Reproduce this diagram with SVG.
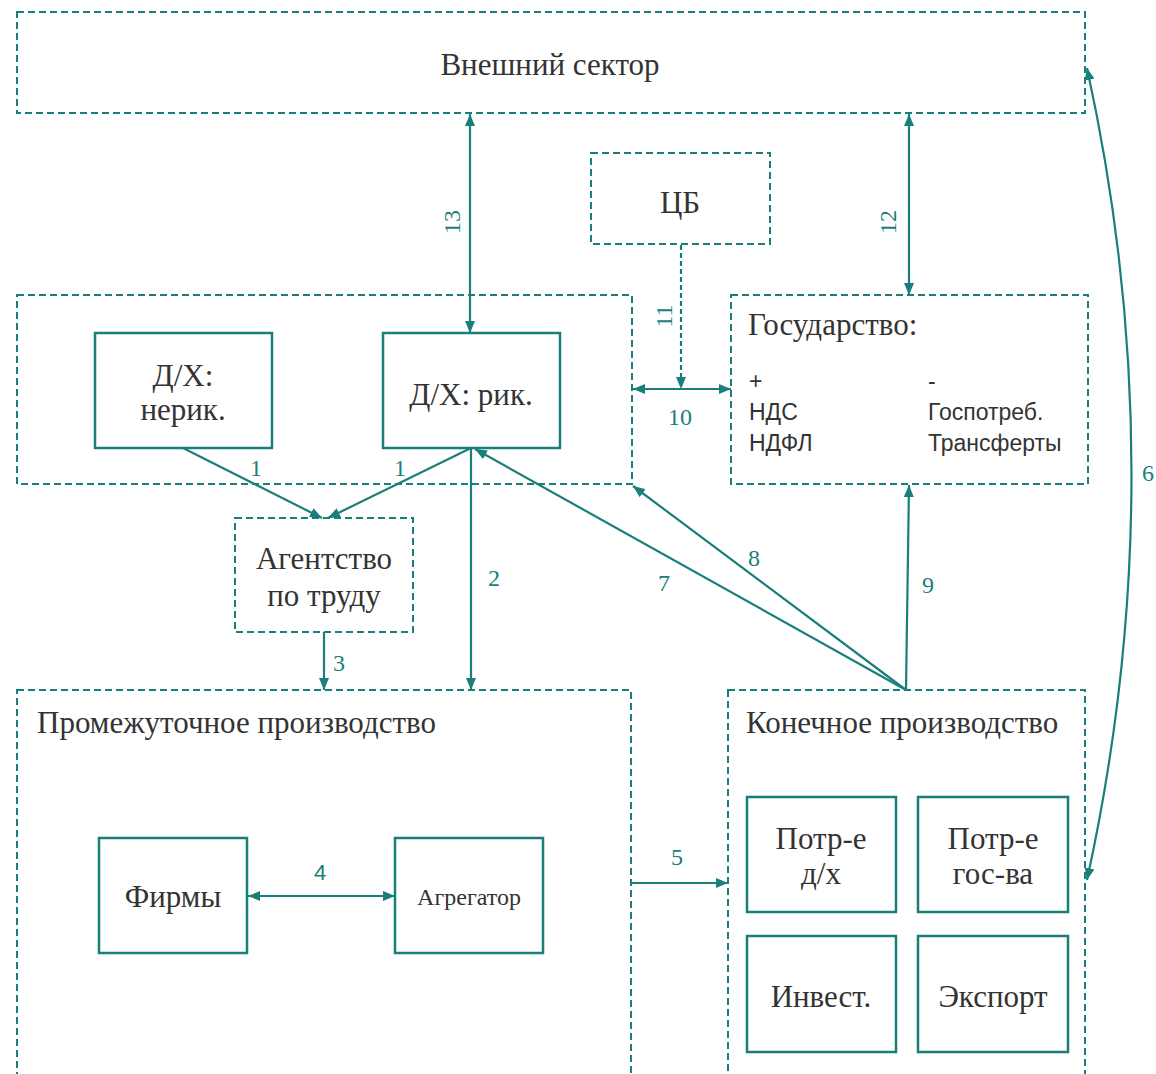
<svg xmlns="http://www.w3.org/2000/svg" width="1156" height="1074" viewBox="0 0 1156 1074">
<defs>
<marker id="ah" viewBox="0 0 12 10" refX="12" refY="5" markerWidth="12" markerHeight="10" markerUnits="userSpaceOnUse" orient="auto-start-reverse">
<path d="M0,0 L12,5 L0,10 Z" fill="#1a7f7a"/>
</marker>
</defs>
<style>
.dash{fill:#fff;stroke:#1a7f7a;stroke-width:2;stroke-dasharray:7 4}
.solid{fill:#fff;stroke:#1a7f7a;stroke-width:2.5}
.t{font-family:"Liberation Serif","DejaVu Serif",serif;font-size:31px;fill:#333}
.s{font-family:"Liberation Sans","DejaVu Sans",sans-serif;font-size:23px;fill:#333}
.c{stroke:#1a7f7a;stroke-width:2.2;fill:none}
.lbl{font-family:"Liberation Serif","DejaVu Serif",serif;font-size:24px;fill:#1a7f7a}
</style>
<rect width="1156" height="1074" fill="#fff"/>
<g id="ext"><rect class="dash" x="17" y="12" width="1068" height="101"/><text class="t" x="550" y="75" text-anchor="middle">Внешний сектор</text></g>
<g id="cb"><rect class="dash" x="591" y="153" width="179" height="91"/><text class="t" x="680" y="213" text-anchor="middle">ЦБ</text></g>
<g id="households"><rect class="dash" x="17" y="295" width="615" height="189"/></g>
<g id="dh-nerik"><rect class="solid" x="95" y="333" width="177" height="115"/><text class="t" x="183" y="386" text-anchor="middle">Д/Х:</text><text class="t" x="183" y="420" text-anchor="middle">нерик.</text></g>
<g id="dh-rik"><rect class="solid" x="383" y="333" width="177" height="115"/><text class="t" x="471" y="405" text-anchor="middle">Д/Х: рик.</text></g>
<g id="gov"><rect class="dash" x="731" y="295" width="357" height="189"/>
<text class="t" x="748" y="335">Государство:</text>
<text class="s" x="749" y="389">+</text><text class="s" x="749" y="420">НДС</text><text class="s" x="749" y="451">НДФЛ</text>
<text class="s" x="928" y="389">-</text><text class="s" x="928" y="420">Госпотреб.</text><text class="s" x="928" y="451">Трансферты</text></g>
<g id="agency"><rect class="dash" x="235" y="518" width="178" height="114"/><text class="t" x="324" y="569" text-anchor="middle">Агентство</text><text class="t" x="324" y="606" text-anchor="middle">по труду</text></g>
<g id="intermediate"><rect class="dash" x="17" y="690" width="614" height="400"/><text class="t" x="37" y="733">Промежуточное производство</text></g>
<g id="firms"><rect class="solid" x="99" y="838" width="148" height="115"/><text class="t" x="173" y="907" text-anchor="middle">Фирмы</text></g>
<g id="aggregator"><rect class="solid" x="395" y="838" width="148" height="115"/><text class="t" x="469" y="905" text-anchor="middle" style="font-size:24px">Агрегатор</text></g>
<g id="final"><rect class="dash" x="728" y="690" width="357" height="400"/><text class="t" x="746" y="733">Конечное производство</text></g>
<g id="cons-dh"><rect class="solid" x="747" y="797" width="149" height="115"/><text class="t" x="821" y="849" text-anchor="middle">Потр-е</text><text class="t" x="821" y="884" text-anchor="middle">д/х</text></g>
<g id="cons-gov"><rect class="solid" x="918" y="797" width="150" height="115"/><text class="t" x="993" y="849" text-anchor="middle">Потр-е</text><text class="t" x="993" y="884" text-anchor="middle">гос-ва</text></g>
<g id="invest"><rect class="solid" x="747" y="936" width="149" height="116"/><text class="t" x="821" y="1007" text-anchor="middle">Инвест.</text></g>
<g id="export"><rect class="solid" x="918" y="936" width="150" height="116"/><text class="t" x="993" y="1007" text-anchor="middle">Экспорт</text></g>
<g id="connectors">
<line class="c" x1="470" y1="114" x2="470" y2="333" marker-start="url(#ah)" marker-end="url(#ah)"/>
<text class="lbl" transform="translate(460,222) rotate(-90)" text-anchor="middle">13</text>
<line class="c" x1="909" y1="114" x2="909" y2="295" marker-start="url(#ah)" marker-end="url(#ah)"/>
<text class="lbl" transform="translate(896,222) rotate(-90)" text-anchor="middle">12</text>
<line class="c" x1="681" y1="245" x2="681" y2="389" stroke-dasharray="5 3" marker-end="url(#ah)"/>
<text class="lbl" transform="translate(672,316) rotate(-90)" text-anchor="middle">11</text>
<line class="c" x1="633" y1="389" x2="731" y2="389" marker-start="url(#ah)" marker-end="url(#ah)"/>
<text class="lbl" x="680" y="425" text-anchor="middle">10</text>
<line class="c" x1="183" y1="448" x2="322" y2="518" marker-end="url(#ah)"/>
<text class="lbl" x="256" y="476" text-anchor="middle">1</text>
<line class="c" x1="471" y1="448" x2="328" y2="518" marker-end="url(#ah)"/>
<text class="lbl" x="400" y="476" text-anchor="middle">1</text>
<line class="c" x1="471" y1="448" x2="471" y2="690" marker-end="url(#ah)"/>
<text class="lbl" x="494" y="586" text-anchor="middle">2</text>
<line class="c" x1="324" y1="632" x2="324" y2="690" marker-end="url(#ah)"/>
<text class="lbl" x="339" y="671" text-anchor="middle">3</text>
<line class="c" x1="906" y1="690" x2="475" y2="449" marker-end="url(#ah)"/>
<text class="lbl" x="664" y="591" text-anchor="middle">7</text>
<line class="c" x1="906" y1="690" x2="633" y2="486" marker-end="url(#ah)"/>
<text class="lbl" x="754" y="566" text-anchor="middle">8</text>
<line class="c" x1="906" y1="690" x2="909" y2="485" marker-end="url(#ah)"/>
<text class="lbl" x="928" y="593" text-anchor="middle">9</text>
<line class="c" x1="631" y1="883" x2="728" y2="883" marker-end="url(#ah)"/>
<text class="lbl" x="677" y="865" text-anchor="middle">5</text>
<line class="c" x1="248" y1="896" x2="395" y2="896" marker-start="url(#ah)" marker-end="url(#ah)"/>
<text class="lbl" x="320" y="880" text-anchor="middle" style="font-family:'Liberation Sans','DejaVu Sans',sans-serif;font-size:22px">4</text>
<path class="c" d="M1087,68 Q1176,474 1087,880" marker-start="url(#ah)" marker-end="url(#ah)"/>
<text class="lbl" x="1142" y="481">6</text>
</g>
</svg>
